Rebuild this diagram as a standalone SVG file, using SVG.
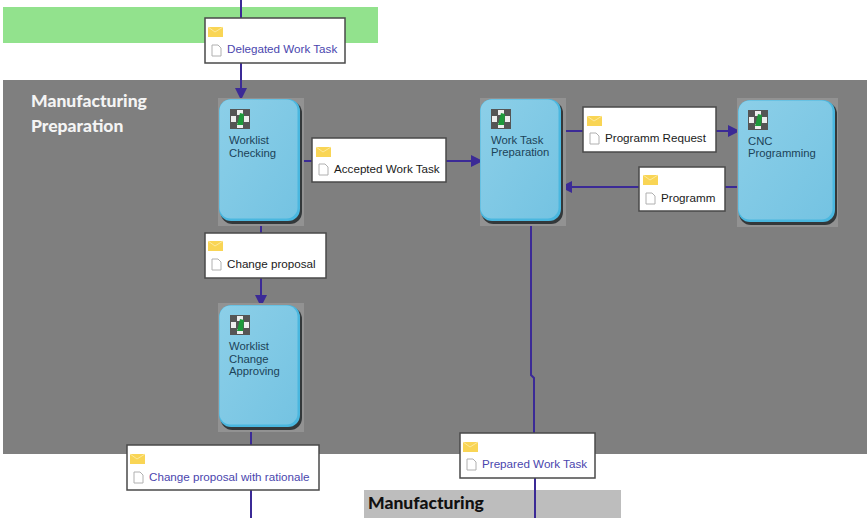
<svg xmlns="http://www.w3.org/2000/svg" width="867" height="518" viewBox="0 0 867 518">
<style>
text{font-family:"Liberation Sans",Arial,sans-serif}
.sw{font-family:Lato,"Open Sans",sans-serif;font-weight:900}
.c{fill:none;stroke:#3b2a96;stroke-width:2}
.t{fill:#fff;stroke:#4a4a4a;stroke-width:1.5}
.l{font-size:11.650px;fill:#1a1a1a}
.b{font-size:11.650px;fill:#4a46ae}
.n{font-size:11.300px;fill:#1c4358}
.e{fill:#f9d555}
.d{fill:#fff;stroke:#b0b0b0;stroke-width:1}
.halo{fill:#929292}
.bd{fill:url(#g)}
.rim{fill:#4ab7df}
.sh{fill:#33383a}
</style>
<defs>
<linearGradient id="g" x1="0" y1="0" x2="1" y2="1"><stop offset="0" stop-color="#8ccfe8"/><stop offset="1" stop-color="#74c3e2"/></linearGradient>
<marker id="a" markerWidth="13" markerHeight="12" refX="11" refY="6" orient="auto" markerUnits="userSpaceOnUse"><path d="M0 0L12 6L0 12Z" fill="#3b2a96"/></marker>
<g id="icon"><rect width="20" height="20" fill="#555"/><rect x="7" y="1" width="6" height="5" fill="#eee"/><rect x="1" y="7" width="5" height="6" fill="#eee"/><rect x="14" y="7" width="5" height="6" fill="#eee"/><rect x="7" y="14" width="6" height="5" fill="#eee"/><path d="M7 16L10 4L14 5L13 16Z" fill="#1d9a3a"/></g>
<g id="env"><rect width="15" height="10" class="e"/><path d="M0 0L7 5L15 0" fill="none" stroke="#fdeeb0" stroke-width=".8"/></g>
<path id="doc" class="d" d="M0 0H6L9 3V11H0Z"/>
<g id="node-s"><rect class="sh" x="1.500" y="2" width="81.500" height="123" rx="12"/><rect class="rim" x="0" y="0" width="81" height="122" rx="12"/><rect class="bd" x="0.500" y="0.500" width="78" height="119" rx="11"/></g>
</defs>
<rect x="3" y="7" width="375" height="36" fill="#92e28d"/>
<rect x="3" y="80" width="864" height="374" fill="#7f7f7f"/>
<rect x="364" y="490" width="257" height="28" fill="#bdbdbd"/>
<text class="sw" x="31" y="107" font-size="17.500" fill="#f4f4f4">Manufacturing</text>
<text class="sw" x="31" y="132" font-size="17.500" fill="#f4f4f4">Preparation</text>
<text class="sw" x="368" y="509" font-size="17.500" fill="#111">Manufacturing</text>
<g id="connectors">
<path class="c" d="M241 0V18"/>
<path class="c" d="M241 63V99" marker-end="url(#a)"/>
<path class="c" d="M301 161H312"/>
<path class="c" d="M446 161H482" marker-end="url(#a)"/>
<path class="c" d="M261 222V233"/>
<path class="c" d="M261 278V306" marker-end="url(#a)"/>
<path class="c" d="M563 131H583"/>
<path class="c" d="M716 131H739" marker-end="url(#a)"/>
<path class="c" d="M738 187H725"/>
<path class="c" d="M639 187H561" marker-end="url(#a)"/>
<path class="c" d="M251 429V445"/>
<path class="c" d="M251 490V518"/>
<path class="c" d="M531 222V375L534 378V433"/>
<path class="c" d="M535 478V518"/>
</g>
<g id="n-worklist-checking">
<rect class="halo" x="218" y="98" width="86" height="128"/>
<use href="#node-s" x="219" y="99"/>
<use href="#icon" x="230" y="109"/>
<text class="n" x="229" y="144">Worklist</text><text class="n" x="229" y="157">Checking</text>
</g>
<g id="n-worklist-change">
<rect class="halo" x="218" y="303" width="86" height="129"/>
<use href="#node-s" x="219" y="305"/>
<use href="#icon" x="230" y="315"/>
<text class="n" x="229" y="350">Worklist</text><text class="n" x="229" y="363">Change</text><text class="n" x="229" y="375">Approving</text>
</g>
<g id="n-work-task">
<rect class="halo" x="480" y="98" width="86" height="128"/>
<use href="#node-s" x="480" y="99"/>
<use href="#icon" x="491" y="109"/>
<text class="n" x="491" y="144">Work Task</text><text class="n" x="491" y="156">Preparation</text>
</g>
<g id="n-cnc">
<rect class="halo" x="737" y="98" width="101" height="129"/>
<rect class="sh" x="739" y="102" width="98" height="123" rx="12"/><rect class="rim" x="738" y="100" width="97" height="122" rx="12"/><rect class="bd" x="738.500" y="100.500" width="94" height="119" rx="11"/>
<use href="#icon" x="748" y="110"/>
<text class="n" x="748" y="145">CNC</text><text class="n" x="748" y="157">Programming</text>
</g>
<g id="m-delegated"><rect class="t" x="205" y="18" width="140" height="45"/><use href="#env" x="208" y="27"/><use href="#doc" x="212" y="45"/><text class="b" x="227" y="53">Delegated Work Task</text></g>
<g id="m-accepted"><rect class="t" x="312" y="138" width="134" height="44"/><use href="#env" x="316" y="147"/><use href="#doc" x="319" y="164"/><text class="l" x="334" y="173">Accepted Work Task</text></g>
<g id="m-change"><rect class="t" x="205" y="233" width="121" height="45"/><use href="#env" x="208" y="241"/><use href="#doc" x="212" y="259"/><text class="l" x="227" y="268">Change proposal</text></g>
<g id="m-request"><rect class="t" x="583" y="107" width="133" height="45"/><use href="#env" x="587" y="116"/><use href="#doc" x="590" y="133"/><text class="l" x="605" y="142">Programm Request</text></g>
<g id="m-programm"><rect class="t" x="639" y="167" width="86" height="44"/><use href="#env" x="643" y="175"/><use href="#doc" x="646" y="193"/><text class="l" x="661" y="202">Programm</text></g>
<g id="m-rationale"><rect class="t" x="127" y="445" width="192" height="45"/><use href="#env" x="130" y="454"/><use href="#doc" x="134" y="472"/><text class="b" x="149" y="481">Change proposal with rationale</text></g>
<g id="m-prepared"><rect class="t" x="460" y="433" width="135" height="45"/><use href="#env" x="463" y="442"/><use href="#doc" x="467" y="459"/><text class="b" x="482" y="468">Prepared Work Task</text></g>
</svg>
